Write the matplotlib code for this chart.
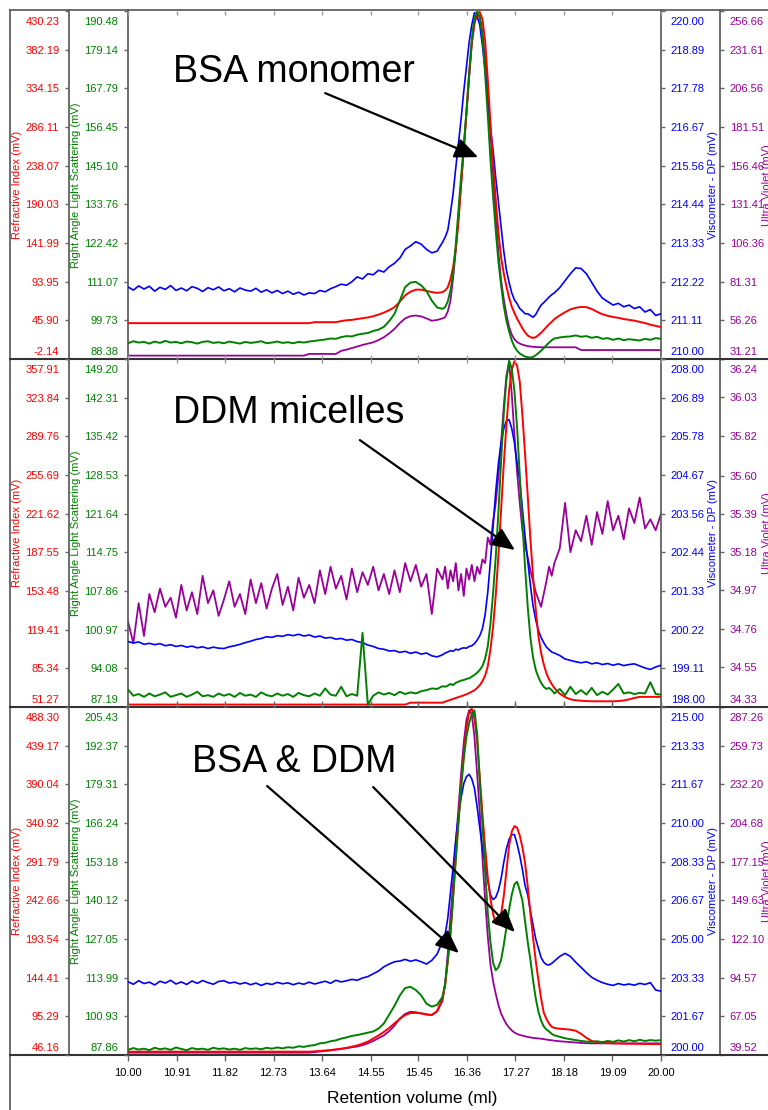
import matplotlib
matplotlib.use('Agg')
import matplotlib.pyplot as plt
from matplotlib.lines import Line2D
from matplotlib.transforms import blended_transform_factory, ScaledTranslation

plt.rcParams['font.family'] = ['Liberation Sans', 'DejaVu Sans']

W, H = 768, 1110
RED, GREEN, BLUE, PURPLE = '#ff0000', '#008000', '#0000ff', '#990099'
FRAME = '#555555'

# retention volume (ml) sample points, shared by every trace
vol = [10.0, 10.1, 10.2, 10.3, 10.4, 10.5, 10.6, 10.7, 10.8, 10.9,
       11.0, 11.1, 11.2, 11.3, 11.4, 11.5, 11.6, 11.7, 11.8, 11.9,
       12.0, 12.1, 12.2, 12.3, 12.4, 12.5, 12.6, 12.7, 12.8, 12.9,
       13.0, 13.1, 13.2, 13.3, 13.4, 13.5, 13.6, 13.7, 13.8, 13.9,
       14.0, 14.1, 14.2, 14.3, 14.4, 14.5, 14.6, 14.7, 14.8, 14.9,
       15.0, 15.1, 15.2, 15.3, 15.4, 15.5, 15.6, 15.7, 15.8, 15.9,
       15.95, 16.0, 16.05, 16.1, 16.15, 16.2, 16.25, 16.3, 16.35, 16.4,
       16.45, 16.5, 16.55, 16.6, 16.65, 16.7, 16.75, 16.8, 16.85, 16.9,
       16.95, 17.0, 17.05, 17.1, 17.15, 17.2, 17.25, 17.3, 17.35, 17.4,
       17.45, 17.5, 17.55, 17.6, 17.65, 17.7, 17.75, 17.8, 17.85, 17.9,
       17.95,
       18.0, 18.1, 18.2, 18.3, 18.4, 18.5, 18.6, 18.7, 18.8, 18.9,
       19.0, 19.1, 19.2, 19.3, 19.4, 19.5, 19.6, 19.7, 19.8, 19.9, 20.0]

x_ticks = [10.00, 10.91, 11.82, 12.73, 13.64, 14.55, 15.45, 16.36, 17.27, 18.18, 19.09, 20.00]

# ---- panel 1 : BSA monomer ----
p1_ri = ([42.4] * 35 + [43.6] * 5 +
         [45.0, 46.0, 46.5, 47.5, 48.5, 49.5, 51.0, 53.0, 55.5, 58.5,
          62.3, 69.0, 77.0, 81.5, 84.0, 84.0, 82.5, 81.0, 80.0, 81.0] +
         [83, 87, 97, 112, 135, 168, 215, 258, 305, 352,
          392, 417, 427, 429, 420, 393, 345, 292, 240, 195,
          155, 124, 104, 88, 74, 63, 55, 48, 42, 36,
          31, 27, 25, 24, 25, 27.5, 30.5, 34, 37.5, 41, 44] +
         [47.5, 52, 56, 59.5, 61.5, 62.5, 62.3, 60, 56.5, 53.5,
          51.5, 50, 49, 47.5, 46.5, 45.5, 44, 42.5, 40.5, 39, 37.4])
p1_rals = ([93.0, 93.6, 93.2, 93.4, 92.9, 93.5, 93.1, 93.7, 93.2, 93.4,
            93.0, 93.5, 93.3, 92.9, 93.4, 93.6, 93.1, 93.3, 93.0, 93.5,
            93.2, 92.9, 93.4, 93.1, 93.3, 93.6, 93.0, 93.2, 93.5, 93.1,
            93.3, 93.0, 93.4, 93.2, 93.5, 93.7, 93.9, 94.1, 94.4, 94.3,
            94.8, 95.1, 95.0, 95.5, 95.8, 96.0, 96.6, 97.0, 97.8, 99.5,
            101.6, 105.5, 109.5, 110.8, 111.0, 110.0, 108.3, 105.5, 103.5, 103.1] +
           [103.6, 105.3, 108.5, 113.4, 122, 132, 142, 151, 161, 172,
            182, 188.5, 190.4, 188.5, 183, 172, 160, 147, 136, 126,
            117, 110, 104, 99.6, 96.5, 93.8, 92.0, 90.8, 90.0, 89.5,
            89.1, 88.9, 88.8, 89.0, 89.5, 90.1, 90.8, 91.6, 92.4, 93.2, 93.9] +
           [94.4, 94.7, 94.9, 95.0, 95.3, 94.9, 95.1, 94.6, 94.9, 94.3,
            94.5, 94.0, 94.4, 93.9, 94.2, 94.0, 93.8, 94.3, 94.0, 94.5, 94.3])
p1_visc = ([212.07, 211.98, 212.10, 212.01, 212.09, 211.95, 212.06, 212.00, 212.11, 211.97,
            212.04, 211.96, 212.08, 212.03, 211.94, 212.05, 211.99, 212.07, 211.96, 212.02,
            211.93, 212.04, 211.98, 211.95, 212.03, 211.92, 211.99, 211.90, 211.97, 211.88,
            211.95, 211.86, 211.92, 211.84, 211.90, 211.88, 211.97, 211.93, 212.02, 212.08,
            212.15, 212.12, 212.22, 212.36, 212.30, 212.45, 212.42, 212.55, 212.50, 212.65,
            212.75, 212.90, 213.15, 213.25, 213.37, 213.30, 213.15, 213.05, 213.10, 213.35] +
           [213.5, 213.7, 214.2, 214.76, 215.5, 216.2, 216.9, 217.7, 218.4, 219.1,
            219.6, 219.95, 219.85, 219.6, 219.0, 218.3, 217.5, 216.6, 216.0, 215.2,
            214.5, 213.8, 213.1, 212.55, 212.2, 211.9, 211.7, 211.59, 211.45, 211.38,
            211.3, 211.3, 211.25, 211.2, 211.28, 211.42, 211.55, 211.62, 211.70, 211.78, 211.85] +
           [211.90, 212.05, 212.25, 212.45, 212.62, 212.60, 212.45, 212.20, 211.95, 211.75,
            211.65, 211.55, 211.60, 211.50, 211.55, 211.45, 211.50, 211.35, 211.42, 211.25, 211.30])
p1_uv = ([33.4] * 34 + [34.5] * 6 +
         [36.5, 37.3, 38.3, 39.3, 40.3, 41.2, 42.0, 43.5, 45.3, 47.8,
          50.7, 54.5, 57.5, 59.0, 59.4, 58.8, 57.5, 56.0, 56.5, 57.5] +
         [58.3, 62, 69, 84, 101.7, 123, 145, 167, 190, 213,
          235, 248, 254.4, 253.4, 243, 226, 200, 178, 150, 123,
          100, 82, 70, 60, 52, 47, 44, 42.2, 41.2, 40.5,
          40, 39.6, 39.3, 39.1, 39, 38.9, 38.8, 38.8, 38.8, 38.8, 38.8] +
         [38.8] * 5 + [37.0] * 16)

p1_ri_ticks = [-2.14, 45.90, 93.95, 141.99, 190.03, 238.07, 286.11, 334.15, 382.19, 430.23]
p1_rals_ticks = [88.38, 99.73, 111.07, 122.42, 133.76, 145.10, 156.45, 167.79, 179.14, 190.48]
p1_visc_ticks = [210.00, 211.11, 212.22, 213.33, 214.44, 215.56, 216.67, 217.78, 218.89, 220.00]
p1_uv_ticks = [31.21, 56.26, 81.31, 106.36, 131.41, 156.46, 181.51, 206.56, 231.61, 256.66]

# ---- panel 2 : DDM micelles ----
p2_ri = ([53.4] * 53 + [55.1] * 7 +
         [56.0, 56.8, 57.6, 58.4, 59.2, 60, 60.8, 61.6, 62.5, 63.5,
          64.8, 66, 68, 70.5, 74, 79, 87, 102, 122, 150,
          185, 225, 265, 300, 330, 348, 356, 352, 338, 308,
          274, 237, 199, 166, 137, 114, 99, 89, 81, 75.5, 71.5] +
         [68, 63, 60, 58, 57.2, 56.8, 56.5, 56.3, 56.3, 56.3,
          56.3, 56.3, 56.5, 57, 58, 59.2, 60.2, 60.2, 60.2, 60.2, 60.2])
p2_rals = ([90.3, 89.2, 89.5, 89.0, 89.6, 89.1, 89.4, 89.8, 89.0, 89.3,
            89.6, 89.0, 89.4, 89.9, 89.1, 89.3, 89.0, 89.6, 89.2, 89.5,
            89.0, 89.7, 89.2, 89.4, 89.0, 89.8, 89.3, 89.1, 89.6, 89.2,
            89.5, 89.0, 89.7, 89.3, 89.1, 89.6, 89.2, 90.5, 89.4, 89.2,
            90.8, 89.1, 89.5, 89.2, 100.4, 87.6, 89.2, 89.8, 89.4, 89.7,
            89.3, 89.9, 89.5, 89.8, 89.6, 90.0, 90.2, 90.5, 90.4, 90.9] +
           [90.8, 91.0, 91.3, 91.1, 91.5, 91.7, 91.9, 92.0, 92.2, 92.3,
            92.6, 92.9, 93.3, 93.8, 94.5, 95.8, 98.0, 102, 107.5, 114,
            122, 131, 139.5, 145.5, 148.9, 147.5, 143.5, 137, 128.5, 120,
            112, 105, 99.5, 96, 93.8, 92.5, 91.5, 90.8, 90.4, 90.6, 90.2] +
           [89.6, 90.4, 89.3, 90.8, 89.5, 90.2, 89.4, 90.6, 89.3, 89.9,
            89.4, 90.3, 91.3, 89.6, 89.8, 89.5, 89.7, 89.6, 91.6, 89.5, 89.4])
p2_visc = ([199.88, 199.84, 199.87, 199.80, 199.83, 199.79, 199.82, 199.76, 199.79, 199.74,
            199.77, 199.72, 199.75, 199.70, 199.73, 199.68, 199.72, 199.69, 199.68, 199.73,
            199.76, 199.80, 199.85, 199.89, 199.94, 199.97, 200.02, 200.00, 200.05, 200.03,
            200.08, 200.05, 200.09, 200.04, 200.07, 200.01, 200.04, 199.98, 200.00, 199.95,
            199.97, 199.92, 199.94, 199.88, 199.85, 199.78, 199.74, 199.68, 199.66, 199.61,
            199.62, 199.57, 199.60, 199.54, 199.58, 199.52, 199.55, 199.47, 199.44, 199.50] +
           [199.55, 199.58, 199.62, 199.60, 199.66, 199.64, 199.68, 199.70, 199.69, 199.74,
            199.76, 199.82, 199.92, 200.05, 200.25, 200.65, 201.3, 202.2, 203.2, 204.2,
            205.0, 205.6, 206.0, 206.22, 206.26, 206.0, 205.6, 205.0, 204.5, 203.7,
            202.9, 202.2, 201.5, 200.9, 200.5, 200.2, 200.0, 199.85, 199.72, 199.65, 199.58] +
           [199.55, 199.48, 199.38, 199.34, 199.30, 199.27, 199.30, 199.24, 199.27, 199.22,
            199.25, 199.20, 199.24, 199.19, 199.22, 199.24, 199.18, 199.12, 199.08, 199.15, 199.20])
p2_uv = ([34.80, 34.68, 34.90, 34.72, 34.95, 34.85, 34.98, 34.88, 34.93, 34.82,
          35.00, 34.86, 34.96, 34.84, 35.05, 34.90, 34.97, 34.83, 34.92, 35.02,
          34.88, 34.95, 34.84, 35.03, 34.90, 35.01, 34.87, 34.98, 35.06, 34.89,
          34.99, 34.86, 35.04, 34.93, 35.00, 34.90, 35.08, 34.95, 35.10, 34.98,
          35.05, 34.92, 35.09, 34.96, 35.07, 35.00, 35.10, 34.97, 35.06, 34.95,
          35.08, 34.96, 35.12, 35.02, 35.11, 34.99, 35.06, 34.84, 35.09, 35.03] +
         [35.10, 34.98, 35.08, 35.02, 35.12, 34.97, 35.06, 34.94, 35.09, 35.03,
          35.11, 35.02, 35.10, 35.06, 35.14, 35.12, 35.26, 35.22, 35.35, 35.45,
          35.60, 35.78, 35.98, 36.15, 36.22, 36.05, 35.82, 35.62, 35.45, 35.30,
          35.22, 35.15, 35.08, 35.02, 34.96, 34.92, 34.88, 34.95, 35.02, 35.10, 35.05] +
         [35.12, 35.20, 35.45, 35.18, 35.30, 35.24, 35.38, 35.22, 35.40, 35.28,
          35.46, 35.30, 35.38, 35.25, 35.42, 35.34, 35.48, 35.31, 35.36, 35.30, 35.39])

p2_ri_ticks = [51.27, 85.34, 119.41, 153.48, 187.55, 221.62, 255.69, 289.76, 323.84, 357.91]
p2_rals_ticks = [87.19, 94.08, 100.97, 107.86, 114.75, 121.64, 128.53, 135.42, 142.31, 149.20]
p2_visc_ticks = [198.00, 199.11, 200.22, 201.33, 202.44, 203.56, 204.67, 205.78, 206.89, 208.00]
p2_uv_ticks = [34.33, 34.55, 34.76, 34.97, 35.18, 35.39, 35.60, 35.82, 36.03, 36.24]

# ---- panel 3 : BSA & DDM ----
p3_ri = ([50.4] * 35 + [50.8, 51.3, 51.9, 52.5, 53.3] +
         [54.2, 55.3, 56.7, 58.3, 60.5, 63.2, 67, 71, 75.5, 80.5,
          86.4, 92, 97, 99.5, 99.6, 99, 97.5, 97, 102, 118] +
         [135, 165, 200, 248, 298, 345, 390, 428, 462, 482,
          486, 474, 445, 400, 352, 310, 272, 245, 225, 213,
          212, 225, 248, 280, 312, 330, 337, 335, 325, 310,
          290, 260, 226, 195, 166, 141, 118, 100, 92, 86, 82] +
         [80.5, 79.5, 79, 78.3, 77, 73, 68, 64, 62.5, 61.8,
          61.3, 61, 60.8, 60.6, 60.5, 60.4, 60.3, 60.2, 60.1, 60.1, 60.1])
p3_rals = ([89.6, 90.2, 89.7, 90.0, 89.5, 90.3, 89.8, 90.1, 89.6, 90.4,
            89.9, 89.5, 90.2, 89.8, 90.0, 89.6, 90.3, 89.9, 90.1, 89.7,
            90.0, 89.6, 90.2, 89.9, 90.1, 89.8, 90.3, 90.0, 90.4, 90.1,
            90.5, 90.3, 90.8, 90.6, 91.0, 91.2, 91.8, 92.0, 92.5, 92.8,
            93.4, 93.8, 94.3, 94.6, 95.0, 95.4, 95.8, 96.8, 98.5, 101.5,
            104.5, 108.0, 110.5, 110.9, 109.8, 108.0, 105.2, 104.2, 104.8, 107.5] +
           [112, 120, 129, 141, 154, 166, 178, 188, 195.5, 200,
            203, 204.3, 196.4, 180, 166, 150, 136, 126, 119, 116.5,
            117.5, 120, 125, 131, 137, 142, 145.5, 146.4, 143.5, 140,
            133, 126, 120, 113, 107, 102.5, 99.5, 97.5, 96.5, 95.8, 95.0] +
           [94.5, 94.0, 93.5, 93.2, 92.9, 92.6, 92.4, 92.3, 92.5, 92.2,
            92.6, 92.3, 92.8, 92.4, 92.9, 92.5, 93.0, 92.6, 92.9, 92.7, 92.9])
p3_visc = ([203.16, 203.05, 203.20, 203.08, 203.14, 203.02, 203.18, 203.10, 203.22, 203.06,
            203.15, 203.04, 203.19, 203.09, 203.21, 203.12, 203.05, 203.17, 203.20, 203.10,
            203.14, 203.06, 203.12, 203.03, 203.10, 203.00, 203.09, 203.04, 203.13, 203.07,
            203.11, 203.03, 203.10, 203.05, 203.14, 203.06, 203.12, 203.18, 203.09, 203.22,
            203.15, 203.20, 203.26, 203.22, 203.32, 203.38, 203.50, 203.62, 203.80, 203.92,
            204.02, 204.05, 204.12, 204.04, 204.10, 204.02, 203.92, 204.08, 204.35, 204.90] +
           [205.2, 205.9, 207.0, 208.1, 209.3, 210.3, 211.1, 211.7, 212.0, 212.1,
            211.9, 211.5, 210.7, 209.8, 208.9, 208.2, 207.5, 206.9, 206.7, 206.8,
            207.1, 207.6, 208.3, 208.9, 209.3, 209.5, 209.5, 209.1, 208.6, 208.0,
            207.3, 206.9, 206.2, 205.6, 205.0, 204.6, 204.2, 204.0, 203.9, 203.88, 203.95] +
           [204.05, 204.25, 204.38, 204.25, 204.00, 203.78, 203.55, 203.35, 203.22, 203.12,
            203.05, 203.00, 203.08, 203.02, 203.06, 203.01, 203.09, 203.04, 203.12, 202.80, 202.75])
p3_uv = ([41.2] * 35 + [41.6, 42.0, 42.4, 42.8, 43.3] +
         [43.8, 44.4, 45.0, 45.6, 46.5, 47.8, 49.5, 51.5, 53.5, 56.5,
          60.5, 65.5, 68.8, 70.3, 70.0, 69.2, 68.5, 68.0, 70.5, 78] +
         [90, 112, 138, 162, 190, 215, 240, 262, 278, 285,
          282, 266, 240, 212, 180, 150, 124, 104, 92, 83,
          75, 69, 65, 61.5, 59, 57, 55.5, 54.5, 53.8, 53.3,
          52.8, 52.4, 52.0, 51.7, 51.5, 51.3, 51.1, 50.8, 50.5, 50.2, 50.0] +
         [49.7, 49.3, 49.0, 48.7, 48.4, 48.1, 47.9, 47.8] + [47.8] * 13)

p3_ri_ticks = [46.16, 95.29, 144.41, 193.54, 242.66, 291.79, 340.92, 390.04, 439.17, 488.30]
p3_rals_ticks = [87.86, 100.93, 113.99, 127.05, 140.12, 153.18, 166.24, 179.31, 192.37, 205.43]
p3_visc_ticks = [200.00, 201.67, 203.33, 205.00, 206.67, 208.33, 210.00, 211.67, 213.33, 215.00]
p3_uv_ticks = [39.52, 67.05, 94.57, 122.10, 149.63, 177.15, 204.68, 232.20, 259.73, 287.26]

# annotations: (text, x ml, y axes-frac), arrows: (start ml, start frac, tip ml, tip frac)
p1_notes = ('BSA monomer', 10.84, 0.825, [(13.70, 0.764, 16.57, 0.580)])
p2_notes = ('DDM micelles', 10.84, 0.845, [(14.35, 0.767, 17.26, 0.451)])
p3_notes = ('BSA & DDM', 11.20, 0.842, [(12.61, 0.773, 16.21, 0.293),
                                        (14.60, 0.770, 17.26, 0.353)])

fig = plt.figure(figsize=(W / 100, H / 100), dpi=100)
fig.patch.set_facecolor('white')

PL, PR = 128, 661          # plot area left/right (px)
OFF = 59 / (PR - PL)       # outer axis offset
y_axes = []


def fig_line(x0, y0, x1, y1, color=FRAME, lw=1.2):
    fig.add_artist(Line2D([x0 / W, x1 / W], [1 - y0 / H, 1 - y1 / H],
                          transform=fig.transFigure, color=color, lw=lw))


def style_y(a, ticks, color, side):
    a.set_ylim(ticks[0], ticks[-1])
    a.set_yticks(ticks)
    a.set_yticklabels(['%.2f' % t for t in ticks])
    if side == 'left':
        a.yaxis.set_ticks_position('left')
    else:
        a.yaxis.set_ticks_position('right')
    a.tick_params(axis='y', which='major', direction='out', length=3, width=1,
                  color='#666666', labelcolor=color, labelsize=8, pad=4)
    for s in a.spines.values():
        s.set_visible(False)
    y_axes.append(a)


def make_panel(top, bottom, ri, rals, visc, uv, ri_t, rals_t, visc_t, uv_t, notes, last):
    rect = [PL / W, 1 - bottom / H, (PR - PL) / W, (bottom - top) / H]
    ax = fig.add_axes(rect)
    ax_ri = ax.twinx()
    ax_visc = ax.twinx()
    ax_uv = ax.twinx()
    ax_ri.spines['left'].set_position(('axes', -OFF))
    ax_uv.spines['right'].set_position(('axes', 1 + OFF))

    ax_uv.plot(vol, uv, color=PURPLE, lw=1.3)
    ax_visc.plot(vol, visc, color=BLUE, lw=1.2)
    ax_ri.plot(vol, ri, color=RED, lw=1.4)
    ax.plot(vol, rals, color=GREEN, lw=1.4)

    style_y(ax, rals_t, GREEN, 'left')
    style_y(ax_ri, ri_t, RED, 'left')
    style_y(ax_visc, visc_t, BLUE, 'right')
    style_y(ax_uv, uv_t, PURPLE, 'right')

    for z, a in enumerate([ax_uv, ax_visc, ax_ri, ax]):
        a.set_zorder(z + 1)
        a.patch.set_visible(False)

    ax.set_xlim(10, 20)
    ax.set_xticks(x_ticks)
    if last:
        ax.set_xticklabels(['%.2f' % t for t in x_ticks])
        ax.tick_params(axis='x', direction='out', length=4, width=1, color='#666666',
                       labelsize=8, pad=5, top=True, bottom=True)
    else:
        ax.tick_params(axis='x', direction='in', length=3, width=1, color='#999999',
                       labelbottom=False, top=True, bottom=True)

    text, tx, ty, arrows = notes
    tr = blended_transform_factory(ax.transData, ax.transAxes)
    ax.text(tx, ty, text, transform=tr, ha='left', va='center', fontsize=27, color='black')
    for x0, y0, x1, y1 in arrows:
        ax.annotate('', xy=(x1, y1), xycoords=('data', 'axes fraction'),
                    xytext=(x0, y0), textcoords=('data', 'axes fraction'),
                    arrowprops=dict(arrowstyle='-|>,head_length=0.65,head_width=0.28',
                                    mutation_scale=22, lw=1.6, color='black',
                                    shrinkA=0, shrinkB=0))

    mid = 1 - (top + bottom) / 2 / H
    fig.text(17 / W, mid, 'Refractive Index (mV)', rotation=90, ha='center', va='center',
             color=RED, fontsize=8)
    fig.text(76 / W, mid, 'Right Angle Light Scattering (mV)', rotation=90, ha='center',
             va='center', color=GREEN, fontsize=8)
    fig.text(713 / W, mid, 'Viscometer - DP (mV)', rotation=90, ha='center', va='center',
             color=BLUE, fontsize=8)
    fig.text(767 / W, mid, 'Ultra Violet (mV)', rotation=90, ha='center', va='center',
             color=PURPLE, fontsize=8)
    return ax


make_panel(11, 359, p1_ri, p1_rals, p1_visc, p1_uv,
           p1_ri_ticks, p1_rals_ticks, p1_visc_ticks, p1_uv_ticks, p1_notes, False)
make_panel(359, 707, p2_ri, p2_rals, p2_visc, p2_uv,
           p2_ri_ticks, p2_rals_ticks, p2_visc_ticks, p2_uv_ticks, p2_notes, False)
make_panel(707, 1055, p3_ri, p3_rals, p3_visc, p3_uv,
           p3_ri_ticks, p3_rals_ticks, p3_visc_ticks, p3_uv_ticks, p3_notes, True)

# keep the end labels of every y scale inside their own panel
down = ScaledTranslation(0, -6 / 100, fig.dpi_scale_trans)
up = ScaledTranslation(0, 2 / 100, fig.dpi_scale_trans)
for a in y_axes:
    tks = a.yaxis.get_major_ticks()
    for lab in (tks[0].label1, tks[0].label2):
        lab.set_va('bottom')
        lab.set_transform(lab.get_transform() + up)
    for lab in (tks[-1].label1, tks[-1].label2):
        lab.set_va('top')
        lab.set_transform(lab.get_transform() + down)

# frame and column separators
fig_line(10, 10, 768, 10)
fig_line(10, 10, 10, 1110)
for xs in (69, 128, 661, 720):
    fig_line(xs, 10, xs, 1055)
for ys in (359, 707):
    fig_line(10, ys, 768, ys, color='#333333', lw=1.5)
fig_line(10, 1055, 768, 1055, color='#333333', lw=1.5)

fig.text(412 / W, 1 - 1098 / H, 'Retention volume (ml)', ha='center', va='center', fontsize=12.5)

fig.savefig('out.png', dpi=100)
